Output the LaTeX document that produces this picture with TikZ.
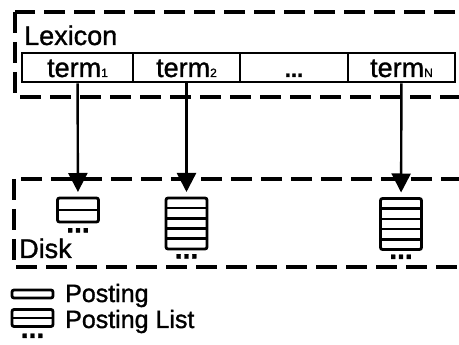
\documentclass[tikz,border=0pt]{standalone}
\usepackage{fontspec}
\setmainfont{Liberation Sans}[FakeBold=1.2]
\usetikzlibrary{arrows.meta,positioning}
\newcommand{\idx}[1]{{\fontsize{12}{12}\selectfont #1}}
\tikzset{
  area/.style={draw, line width=3.2pt, dash pattern=on 21pt off 9pt},
  tag/.style={inner sep=0pt, font=\fontsize{27}{27}\selectfont},
  key/.style={inner sep=0pt, font=\fontsize{25}{25}\selectfont},
  cell/.style={draw, line width=2.6pt, minimum height=29pt, inner sep=0pt,
    text height=19pt, text depth=0pt, font=\fontsize{27}{27}\selectfont},
  plist/.style={draw, line width=2.8pt, rounded corners=2pt, outer sep=0pt,
    minimum width=41pt, inner sep=0pt},
  row/.style={line width=2.6pt},
  more/.style={inner sep=0pt, font=\fontsize{28}{28}\bfseries},
  link/.style={line width=2.4pt, -{Triangle[width=19pt,length=19pt]}, shorten >=6pt},
}
\begin{document}
\begin{tikzpicture}[x=1pt,y=-1pt]
  \useasboundingbox (0,0) rectangle (459,345);
  \clip (0,0) rectangle (459,345);

  % lexicon in memory
  \draw[area] (15,12) rectangle (480,97);
  \node[tag, anchor=base west] (lexicon) at (24,45) {Lexicon};
  \node[cell, minimum width=111pt] (term1) at (77.5,67.5) {term\idx{1}};
  \node[cell, minimum width=107pt] (term2) at (186.5,67.5) {term\idx{2}};
  \node[cell, minimum width=108pt] (termdots) at (294,67.5) {\fontsize{22}{22}\bfseries...};
  \node[cell, minimum width=107pt] (termN) at (401.5,67.5) {term\idx{N}};

  % posting lists on disk
  \draw[area] (14,179) rectangle (480,267);
  \node[tag, anchor=base west] (disk) at (19,258) {Disk};
  \node[plist, minimum height=24pt] (list1) at (78,210) {};
  \node[plist, minimum height=51pt] (list2) at (186.5,223.5) {};
  \node[plist, minimum height=51pt] (list3) at (401,224) {};
  \draw[row] (list1.west) -- (list1.east);
  \foreach \k in {1,...,4} {
    \draw[row] ([yshift=-\k*10.2pt]list2.north west) -- ([yshift=-\k*10.2pt]list2.north east);
    \draw[row] ([yshift=-\k*10.2pt]list3.north west) -- ([yshift=-\k*10.2pt]list3.north east);
  }
  \node[more, below=6pt of list1] (more1) {...};
  \node[more, below=5pt of list2] (more2) {...};
  \node[more, below=5pt of list3] (more3) {...};

  \draw[link] (term1) -- (list1);
  \draw[link] (term2) -- (list2);
  \draw[link] (termN) -- (list3);

  % legend
  \node[plist, minimum height=8pt] (posting) at (32.5,294) {};
  \node[key, anchor=base west] (postingtext) at (65,302) {Posting};
  \node[plist, minimum height=17pt] (listkey) at (32.5,318) {};
  \draw[row] (listkey.west) -- (listkey.east);
  \node[more, below=7pt of listkey] (morekey) {...};
  \node[key, anchor=base west] (listkeytext) at (65,328) {Posting List};
\end{tikzpicture}
\end{document}
